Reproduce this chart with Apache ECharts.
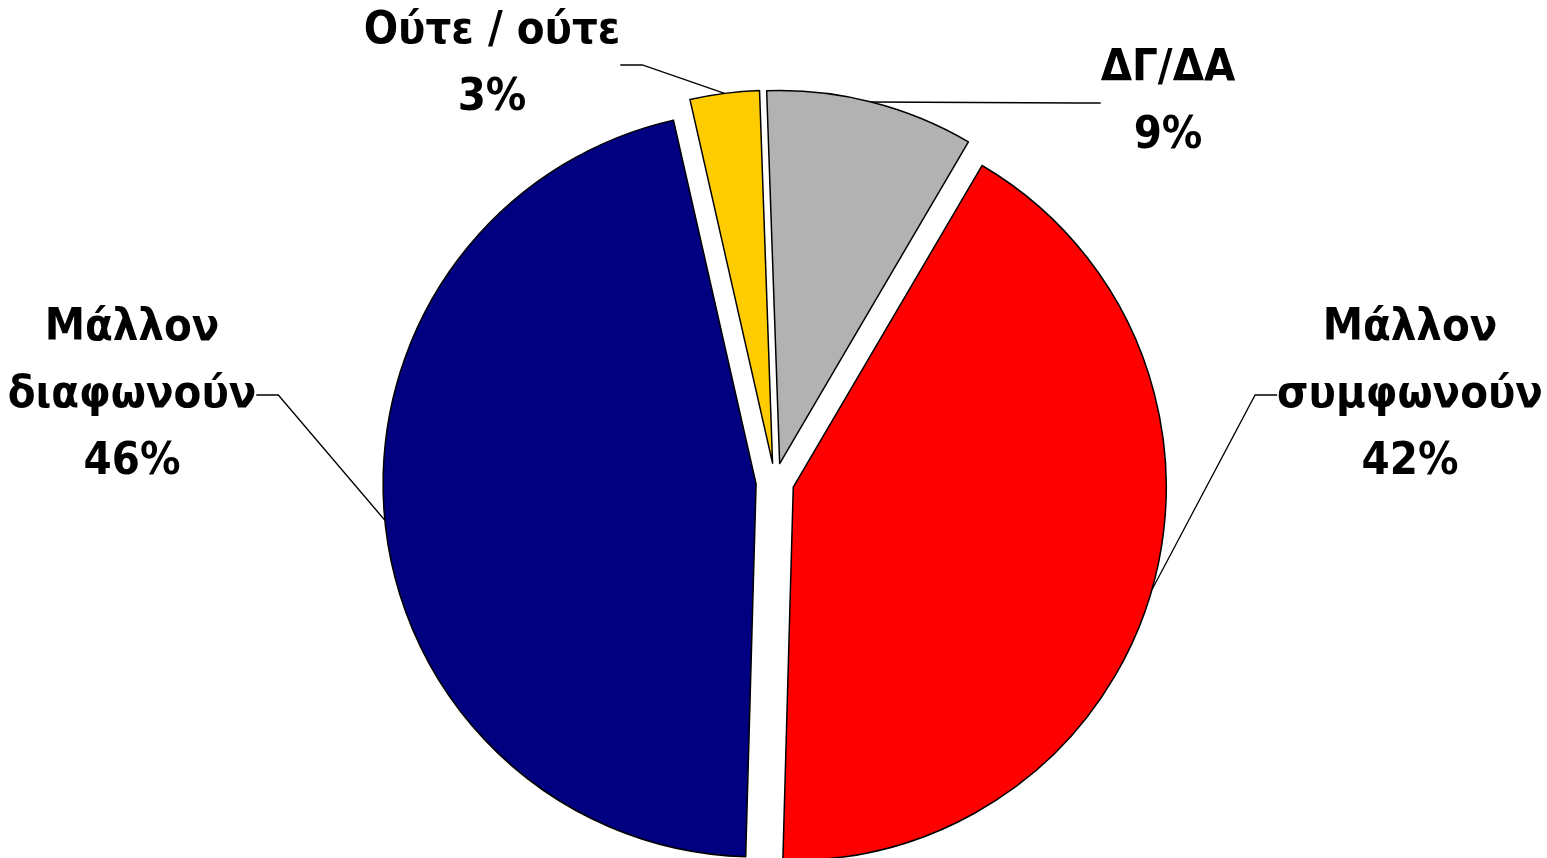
<!DOCTYPE html>
<html>
<head>
<meta charset="utf-8">
<script src="https://cdn.jsdelivr.net/npm/echarts@6/dist/echarts.min.js"></script>
<style>
    html, body { margin: 0; padding: 0; background: #fff; }
    #chart { width: 1547px; height: 858px; }
</style>
</head>
<body>
<div id="chart"></div>
<script>
// slices, clockwise from the top
const categories = ['ΔΓ/ΔΑ', 'Μάλλον\nσυμφωνούν', 'Μάλλον\nδιαφωνούν', 'Ούτε / ούτε'];
const values = [9, 42, 46, 3];
const colors = ['#b2b2b2', '#ff0000', '#000080', '#ffcc00'];

// where each label block sits (centre, px)
const labelPos = [[1168, 103], [1410, 395], [132, 395], [492, 65]];

const CX = 775, CY = 482, R = 373;
const START = 92;   // degrees, ECharts convention
const EXPLODE = 19; // px each slice is pulled out

const total = values.reduce((a, b) => a + b, 0);

// one pie per slice so every slice can be pulled out along its own middle
const series = [];
let before = 0;
values.forEach((v, i) => {
    const mid = (START - 360 * (before + v / 2) / total) * Math.PI / 180;
    before += v;
    series.push({
        type: 'pie',
        center: [CX + EXPLODE * Math.cos(mid), CY - EXPLODE * Math.sin(mid)],
        radius: R,
        startAngle: START,
        clockwise: true,
        avoidLabelOverlap: false,
        silent: true,
        label: {
            show: true,
            color: '#000',
            fontFamily: "'DejaVu Sans Condensed', 'Liberation Sans', sans-serif",
            fontWeight: 'bold',
            fontSize: 45,
            lineHeight: 67,
            align: 'center',
            formatter: (p) => p.name + '\n' + Math.round(p.percent) + '%',
        },
        labelLine: {
            show: true,
            length: 20,
            length2: 22,
            smooth: false,
            lineStyle: { color: '#000', width: 1.3 },
        },
        labelLayout: (params) => {
            const p = labelPos[params.dataIndex];
            return { x: p[0], y: p[1], align: 'center', verticalAlign: 'middle' };
        },
        data: categories.map((name, j) => j === i
            ? {
                name: name,
                value: values[j],
                itemStyle: { color: colors[j], borderColor: '#000', borderWidth: 1.5 },
            }
            : {
                name: name,
                value: values[j],
                itemStyle: { color: 'rgba(0,0,0,0)', borderWidth: 0 },
                label: { show: false },
                labelLine: { show: false },
            }),
    });
});

const chart = echarts.init(document.getElementById('chart'));
chart.setOption({ animation: false, series: series });
</script>
</body>
</html>
